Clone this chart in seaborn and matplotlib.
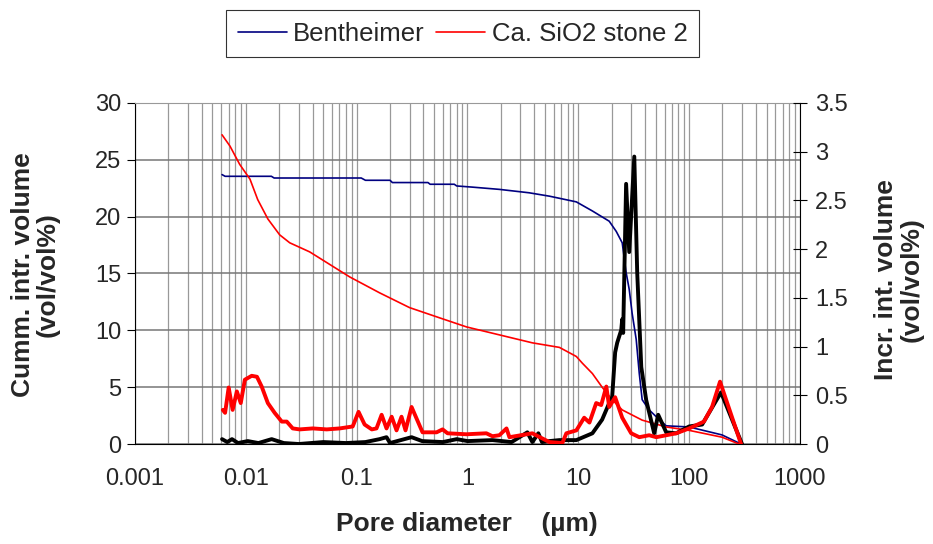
import numpy as np
import pandas as pd
import matplotlib
matplotlib.use('Agg')
import matplotlib.pyplot as plt
from matplotlib.ticker import LogLocator, FixedLocator, FuncFormatter, NullFormatter
import seaborn as sns

# cumulative intrusion volume (vol/vol%), left axis
benth_d = [0.0061, 0.0065, 0.017, 0.018, 0.11, 0.12, 0.20, 0.21, 0.44, 0.46, 0.76, 0.80,
           1.1, 1.94, 3.6, 5.5, 9.6, 13.4, 19.0, 22.0, 24.9, 27.0, 28.8, 30.6, 33.3,
           35.5, 37.7, 43.6, 50.5, 62.1, 100, 198, 294]
benth_cum = [23.7, 23.55, 23.55, 23.4, 23.4, 23.2, 23.2, 23.0, 23.0, 22.85, 22.85, 22.7,
             22.6, 22.4, 22.1, 21.8, 21.3, 20.5, 19.6, 18.7, 17.7, 15.1, 13.6, 11.5, 9.2,
             6.2, 3.9, 3.0, 2.4, 1.6, 1.5, 0.8, 0.0]

sio2_d = [0.0061, 0.0072, 0.0088, 0.0109, 0.0128, 0.0158, 0.0202, 0.0249, 0.0377, 0.0571,
          0.0865, 0.161, 0.300, 0.560, 0.98, 1.94, 3.85, 6.75, 9.6, 10.9, 13.4, 16.4,
          20.2, 24.9, 37.7, 62.1, 100, 198, 282]
sio2_cum = [27.2, 26.2, 24.6, 23.3, 21.5, 19.8, 18.4, 17.7, 16.9, 15.8, 14.7, 13.3, 12.0,
            11.1, 10.3, 9.6, 8.9, 8.5, 7.7, 7.1, 6.2, 5.0, 3.9, 3.0, 2.1, 1.5, 1.2, 0.6, 0.0]

# incremental intrusion volume (vol/vol%), right axis
benth_inc_d = [0.0061, 0.0068, 0.0075, 0.0085, 0.0104, 0.013, 0.0171, 0.022, 0.03, 0.05,
               0.08, 0.12, 0.161, 0.186, 0.20, 0.313, 0.39, 0.60, 0.80, 1.0, 1.68, 2.5,
               3.47, 3.85, 4.36, 4.7, 5.48, 6.75, 9.6, 13.4, 16.4, 19.0, 20.2, 21.5, 22.45,
               24.4, 24.9, 25.4, 27.0, 28.8, 32.0, 34.0, 37.0, 41.0, 48.4, 52.6, 62.1,
               76.4, 100, 131, 194, 300]
benth_inc = [0.05, 0.02, 0.05, 0.01, 0.03, 0.01, 0.05, 0.01, 0.0, 0.02,
             0.01, 0.02, 0.05, 0.07, 0.01, 0.07, 0.03, 0.02, 0.05, 0.03, 0.04, 0.02,
             0.12, 0.02, 0.11, 0.02, 0.03, 0.04, 0.04, 0.11, 0.25, 0.42, 0.48, 0.94, 1.04,
             1.17, 1.28, 1.14, 2.67, 1.97, 2.95, 1.76, 0.79, 0.45, 0.11, 0.30, 0.12,
             0.11, 0.18, 0.20, 0.53, 0.0]

sio2_inc_d = [0.0062, 0.0065, 0.0070, 0.0076, 0.0083, 0.0090, 0.0098, 0.0113, 0.0126,
              0.0139, 0.0158, 0.0182, 0.0211, 0.0234, 0.0265, 0.0306, 0.0402, 0.0537,
              0.0703, 0.0921, 0.104, 0.118, 0.137, 0.151, 0.168, 0.186, 0.207, 0.229,
              0.254, 0.276, 0.313, 0.393, 0.526, 0.596, 0.661, 0.98, 1.48, 1.68, 1.94,
              2.25, 2.39, 3.85, 5.48, 7.18, 7.80, 9.60, 11.3, 12.6, 14.5, 16.1, 17.9,
              19.0, 21.5, 24.9, 30.0, 35.5, 43.6, 50.5, 76.4, 100, 136, 161, 190, 294]
sio2_inc = [0.35, 0.32, 0.58, 0.35, 0.54, 0.42, 0.66, 0.70, 0.69,
            0.59, 0.42, 0.32, 0.23, 0.23, 0.16, 0.15, 0.16, 0.15,
            0.16, 0.18, 0.33, 0.20, 0.15, 0.16, 0.30, 0.16, 0.28, 0.14,
            0.28, 0.14, 0.38, 0.12, 0.12, 0.15, 0.11, 0.10, 0.11, 0.08, 0.09,
            0.16, 0.07, 0.11, 0.02, 0.01, 0.11, 0.14, 0.27, 0.22, 0.42, 0.40, 0.59,
            0.38, 0.48, 0.27, 0.11, 0.07, 0.09, 0.07, 0.11, 0.16, 0.23, 0.38, 0.64, 0.0]

x_ticks = [0.001, 0.01, 0.1, 1, 10, 100, 1000]

sns.set_style("white")
plt.rcParams['font.family'] = ['Liberation Sans', 'DejaVu Sans']
fs = 17
lfs = 19

fig = plt.figure(figsize=(9.33, 5.44), dpi=100)
ax1 = fig.add_axes([0.1447, 0.1838, 0.7127, 0.6269])
ax2 = ax1.twinx()

sns.lineplot(x=benth_d, y=benth_cum, ax=ax1, color='#000080', lw=1.2,
             estimator=None, sort=False, label='Bentheimer')
sns.lineplot(x=sio2_d, y=sio2_cum, ax=ax1, color='#ff0000', lw=1.2,
             estimator=None, sort=False, label='Ca. SiO2 stone 2')
sns.lineplot(x=benth_inc_d, y=benth_inc, ax=ax2, color='black', lw=2.8,
             estimator=None, sort=False, legend=False)
sns.lineplot(x=sio2_inc_d, y=sio2_inc, ax=ax2, color='#ff0000', lw=2.8,
             estimator=None, sort=False, legend=False)

ax1.set_xscale('log')
ax1.set_xlim(0.001, 1000)
ax1.set_ylim(0, 30)
ax2.set_ylim(0, 3.5)
ax1.set_yticks(np.arange(0, 31, 5))
ax2.set_yticks(np.arange(0, 3.6, 0.5))
ax2.yaxis.set_major_formatter(FuncFormatter(lambda v, p: '{:g}'.format(v)))
ax1.xaxis.set_major_locator(FixedLocator(x_ticks))
ax1.xaxis.set_major_formatter(FuncFormatter(lambda v, p: '{:g}'.format(v)))
ax1.xaxis.set_minor_locator(LogLocator(base=10, subs=np.arange(2, 10), numticks=20))
ax1.xaxis.set_minor_formatter(NullFormatter())

ax1.grid(True, which='major', axis='y', color='#777777', lw=1.1)
ax1.grid(True, which='both', axis='x', color='#999999', lw=0.9)
ax1.set_axisbelow(True)

for sp in ['left', 'bottom']:
    ax1.spines[sp].set_color('black')
ax1.spines['top'].set_color('#999999')
ax1.spines['right'].set_visible(False)
for sp in ['top', 'left', 'bottom']:
    ax2.spines[sp].set_visible(False)
ax2.spines['right'].set_color('black')

ax1.tick_params(axis='x', which='major', direction='out', length=7, color='black',
                labelsize=fs, pad=10)
ax1.tick_params(axis='x', which='minor', length=0)
ax1.tick_params(axis='y', direction='out', length=6, color='black', labelsize=fs, pad=4,
                left=True)
ax2.tick_params(axis='y', direction='inout', length=10, color='black', labelsize=fs, pad=6)

# axis titles placed on the figure
fig.text(0.5005, 0.0368, 'Pore diameter    (µm)', fontsize=lfs, fontweight='bold',
         ha='center', va='center')
fig.text(0.038, 0.496, 'Cumm. intr. volume\n(vol/vol%)', fontsize=lfs, fontweight='bold',
         rotation=90, ha='center', va='center', multialignment='center', linespacing=1.05)
fig.text(0.9635, 0.487, 'Incr. int. volume\n(vol/vol%)', fontsize=lfs, fontweight='bold',
         rotation=90, ha='center', va='center', multialignment='center', linespacing=1.05)

leg = ax1.legend(loc='center', bbox_to_anchor=(0.496, 0.938),
                 bbox_transform=fig.transFigure, ncol=2, fontsize=18.5, frameon=True,
                 fancybox=False, edgecolor='black', handlelength=1.9, columnspacing=0.45,
                 handletextpad=0.25, borderpad=0.45, borderaxespad=0)
leg.get_frame().set_linewidth(0.8)

fig.savefig('out.png', dpi=100)
